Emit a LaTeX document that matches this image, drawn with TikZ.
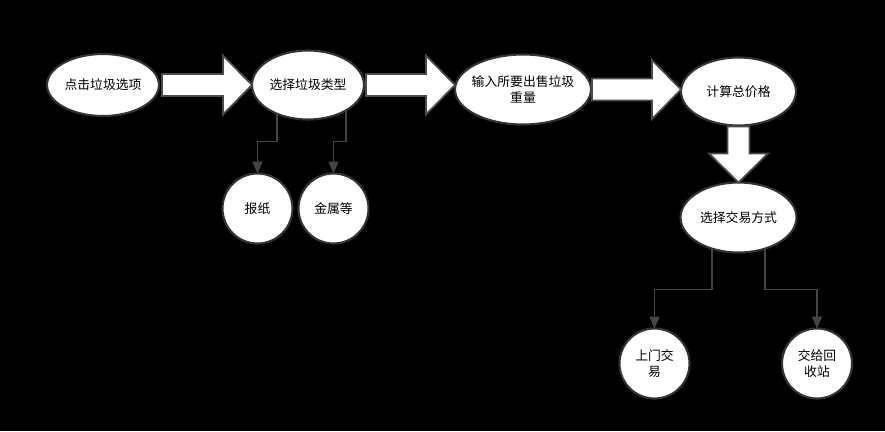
\documentclass[tikz,border=0pt]{standalone}
\usepackage{fontspec}
\newfontfamily\cjkfont{Noto Sans CJK SC}
\usepackage{tikz}
\usetikzlibrary{positioning, arrows.meta, shapes.geometric, calc}

\definecolor{rimgray}{HTML}{333333}
\definecolor{linkgray}{HTML}{444444}
\definecolor{fatgray}{HTML}{4A4A4A}

% wide block arrow from #1 to the tip #2
\newcommand{\fatarrow}[2]{%
  \coordinate (fa-s) at (#1);
  \coordinate (fa-t) at (#2);
  \coordinate (fa-h) at ($(fa-t)!0.58cm!(fa-s)$);
  \draw[fat] ($(fa-s)!0.22cm!90:(fa-t)$) -- ($(fa-h)!0.22cm!90:(fa-t)$)
    -- ($(fa-h)!0.59cm!90:(fa-t)$) -- (fa-t) -- ($(fa-h)!0.59cm!-90:(fa-t)$)
    -- ($(fa-h)!0.22cm!-90:(fa-t)$) -- ($(fa-s)!0.22cm!-90:(fa-t)$) -- cycle;
}

\begin{document}
\begin{tikzpicture}[
  font=\cjkfont\fontsize{7.3}{9.4}\selectfont,
  oval/.style={ellipse, draw=rimgray, line width=1.2pt, fill=white, outer sep=0pt,
    inner sep=0pt, align=center, minimum width=2.24cm, minimum height=1.38cm},
  leaf/.style={circle, draw=rimgray, line width=1.2pt, fill=white, outer sep=0pt,
    inner sep=0pt, align=center, minimum size=1.40cm},
  link/.style={draw=linkgray, line width=1.1pt,
    -{Triangle[width=0.2cm, length=0.24cm]}},
  fat/.style={draw=fatgray, line width=1pt, fill=white, line join=miter},
]
  \fill[black] (0,0) rectangle (17.7,-8.62);
  \useasboundingbox (0,0) rectangle (17.7,-8.62);

  \node[oval, minimum height=1.24cm] (pick) at (2.06,-1.70) {点击垃圾选项};
  \node[oval, right=1.86cm of pick] (kind) {选择垃圾类型};
  \node[oval, minimum width=2.72cm, minimum height=1.40cm, inner xsep=-0.25cm,
    right=1.82cm of kind, yshift=-0.09cm] (weight) {输入所要出售垃圾\\重量};
  \node[oval, minimum width=2.30cm, minimum height=1.36cm,
    right=1.80cm of weight, yshift=-0.04cm] (price) {计算总价格};
  \node[oval, minimum width=2.32cm, minimum height=1.40cm,
    below=1.14cm of price] (mode) {选择交易方式};

  \node[leaf, below=1.08cm of kind, xshift=-1.01cm] (paper) {报纸};
  \node[leaf, below=1.08cm of kind, xshift=0.51cm] (metal) {金属等};
  \node[leaf, below=1.52cm of mode, xshift=-1.68cm] (door) {上门交\\易};
  \node[leaf, below=1.52cm of mode, xshift=1.57cm] (station) {交给回\\收站};

  \fatarrow{$(pick.east)+(0.06,0)$}{kind.west |- fa-s}
  \fatarrow{$(kind.east)+(0.04,0)$}{weight.west |- fa-s}
  \fatarrow{$(weight.east)+(0.02,0)$}{price.west |- fa-s}
  \fatarrow{$(price.south)+(0,-0.02)$}{mode.north}

  \foreach \from/\to/\drop in {kind.-137/paper/0.64, kind.-34/metal/0.64,
                               mode.-130/door/0.78, mode.-49/station/0.78}{
    \draw[link] (\from) |- ($(\to.north)+(0,\drop)$) -- (\to.north);
  }
\end{tikzpicture}
\end{document}
